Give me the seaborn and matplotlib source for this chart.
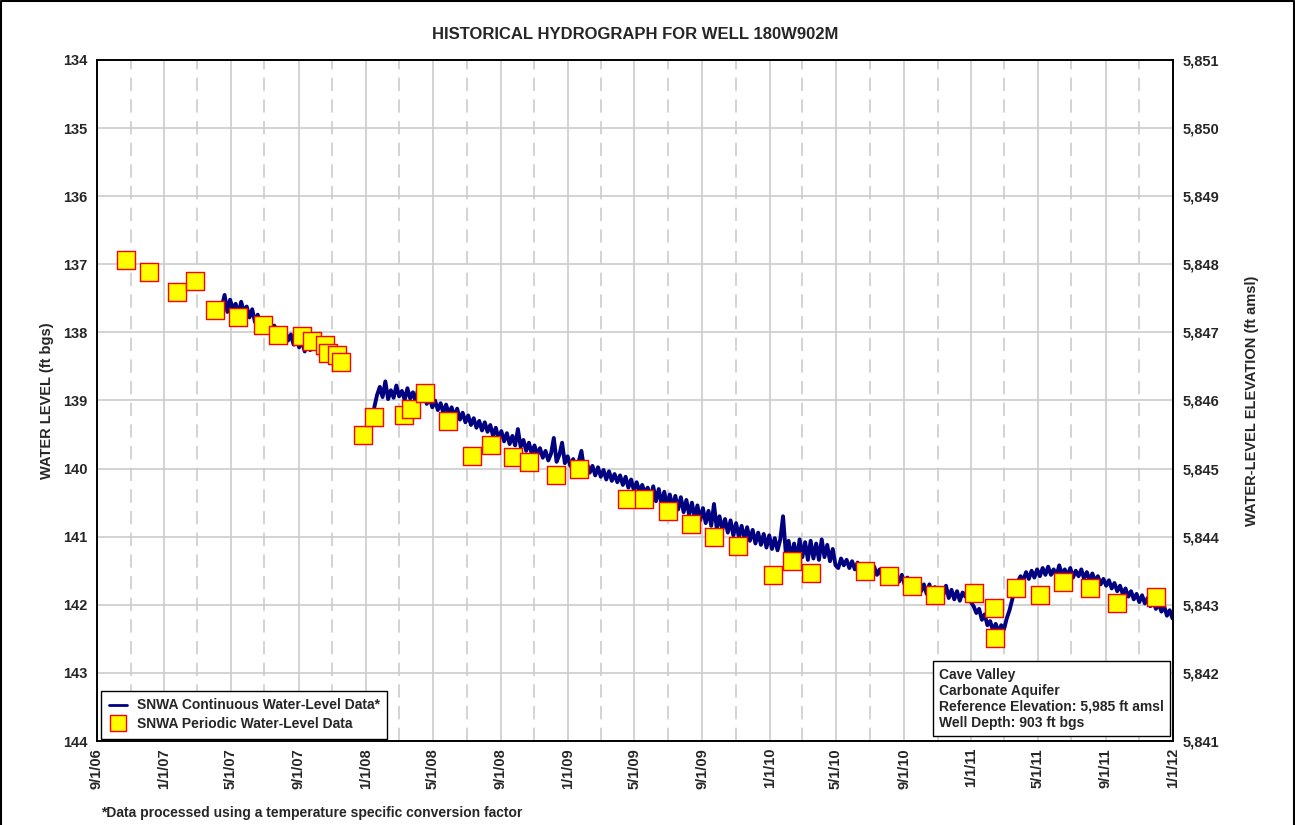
import pandas as pd
import numpy as np
import seaborn as sns
import matplotlib.pyplot as plt
import matplotlib.dates as mdates
from matplotlib.lines import Line2D
from matplotlib.ticker import FuncFormatter, MultipleLocator

# periodic (manual) measurements
periodic_dates = ["2006-10-23", "2006-12-05", "2007-01-23", "2007-02-25", "2007-04-03", "2007-05-15",
                  "2007-06-28", "2007-07-26", "2007-09-07", "2007-09-26", "2007-10-18", "2007-10-24",
                  "2007-11-09", "2007-11-16", "2007-12-27", "2008-01-15", "2008-03-10", "2008-03-22",
                  "2008-04-16", "2008-05-28", "2008-07-11", "2008-08-14", "2008-09-24", "2008-10-22",
                  "2008-12-10", "2009-01-21", "2009-04-17", "2009-05-19", "2009-07-01", "2009-08-12",
                  "2009-09-22", "2009-11-04", "2010-01-07", "2010-02-10", "2010-03-16", "2010-06-23",
                  "2010-08-04", "2010-09-16", "2010-10-28", "2011-01-06", "2011-02-11", "2011-02-13",
                  "2011-03-22", "2011-05-05", "2011-06-15", "2011-08-04", "2011-09-21", "2011-12-01"]
periodic_level = [136.94, 137.11, 137.41, 137.25, 137.67, 137.77,
                  137.89, 138.04, 138.05, 138.12, 138.19, 138.30,
                  138.33, 138.44, 139.51, 139.24, 139.21, 139.13,
                  138.89, 139.30, 139.82, 139.65, 139.83, 139.91,
                  140.10, 140.00, 140.44, 140.44, 140.62, 140.81,
                  141.00, 141.13, 141.56, 141.35, 141.53, 141.50,
                  141.57, 141.72, 141.85, 141.82, 142.04, 142.49,
                  141.75, 141.85, 141.67, 141.76, 141.98, 141.88]

# continuous transducer record, first segment (5-day readings from 2007-04-15)
cont1_start = "2007-04-15"
cont1_level = [137.62, 137.45, 137.70, 137.52, 137.66, 137.58, 137.73, 137.55, 137.70, 137.62,
               137.78, 137.66, 137.85, 137.74, 137.90, 137.82, 137.95, 137.86, 137.98, 137.90,
               138.05, 137.94, 138.08, 137.98, 138.12, 138.03, 138.18, 138.08, 138.22, 138.12,
               138.28, 138.18, 138.26]

# second segment (5-day readings from 2008-01-16)
cont2_start = "2008-01-16"
cont2_level = [139.10, 138.92, 138.80, 138.95, 138.72, 138.98, 138.85, 138.96, 138.78, 138.94,
               138.86, 138.99, 138.82, 138.97, 138.88, 139.02, 138.80, 139.00, 138.90, 139.05,
               138.95, 139.10, 139.00, 139.14, 139.04, 139.18, 139.06, 139.20, 139.10, 139.24,
               139.12, 139.28, 139.18, 139.32, 139.22, 139.36, 139.26, 139.40, 139.30, 139.44,
               139.32, 139.46, 139.36, 139.52, 139.40, 139.56, 139.45, 139.60, 139.48, 139.64,
               139.52, 139.66, 139.42, 139.68, 139.58, 139.74, 139.62, 139.78, 139.66, 139.80,
               139.70, 139.84, 139.74, 139.88, 139.78, 139.55, 139.90, 139.80, 139.62, 139.92,
               139.82, 139.96, 139.86, 140.00, 139.90, 139.74, 140.02, 139.92, 140.06, 139.96,
               140.10, 139.98, 140.12, 140.02, 140.16, 140.04, 140.18, 140.08, 140.20, 140.10,
               140.24, 140.12, 140.28, 140.16, 140.32, 140.20, 140.34, 140.24, 140.36, 140.28,
               140.44, 140.26, 140.48, 140.30, 140.52, 140.34, 140.56, 140.38, 140.58, 140.40,
               140.60, 140.42, 140.64, 140.46, 140.68, 140.50, 140.72, 140.54, 140.76, 140.58,
               140.80, 140.62, 140.84, 140.52, 140.88, 140.70, 140.90, 140.74, 140.94, 140.76,
               140.98, 140.80, 141.00, 140.84, 141.04, 140.86, 141.06, 140.90, 141.10, 140.94,
               141.12, 140.96, 141.16, 140.98, 141.18, 141.02, 141.20, 141.04, 140.70, 141.24,
               141.06, 141.32, 141.10, 141.34, 141.04, 141.30, 141.08, 141.34, 141.06, 141.32,
               141.10, 141.34, 141.04, 141.30, 141.12, 141.36, 141.18, 141.42, 141.46, 141.32,
               141.42, 141.34, 141.46, 141.36, 141.48, 141.38, 141.50, 141.40, 141.50, 141.42,
               141.54, 141.44, 141.56, 141.48, 141.60, 141.50, 141.62, 141.52, 141.64, 141.55,
               141.66, 141.56, 141.70, 141.60, 141.74, 141.64, 141.76, 141.66, 141.80, 141.70,
               141.84, 141.70, 141.88, 141.74, 141.90, 141.76, 141.86, 141.72, 141.90, 141.78,
               141.92, 141.80, 141.94, 141.82, 141.88, 141.74, 141.96, 142.02, 142.12, 142.06,
               142.22, 142.14, 142.30, 142.24, 142.38, 142.28, 142.40, 142.30, 142.36, 142.20,
               142.08, 141.92, 141.74, 141.66, 141.58, 141.64, 141.52, 141.62, 141.50, 141.60,
               141.48, 141.58, 141.46, 141.56, 141.44, 141.56, 141.48, 141.58, 141.42, 141.56,
               141.48, 141.58, 141.46, 141.60, 141.50, 141.58, 141.48, 141.62, 141.52, 141.64,
               141.54, 141.66, 141.58, 141.70, 141.62, 141.72, 141.64, 141.76, 141.68, 141.80,
               141.72, 141.84, 141.76, 141.88, 141.80, 141.92, 141.84, 141.96, 141.86, 141.98,
               141.90, 142.02, 141.94, 142.06, 141.98, 142.10, 142.02, 142.16, 142.08, 142.20]

ref_elev = 5985

per_df = pd.DataFrame({"date": pd.to_datetime(periodic_dates), "level": periodic_level})
c1 = pd.DataFrame({"date": pd.date_range(cont1_start, periods=len(cont1_level), freq="5D"), "level": cont1_level})
c2 = pd.DataFrame({"date": pd.date_range(cont2_start, periods=len(cont2_level), freq="5D"), "level": cont2_level})

sns.set_style("white")
plt.rcParams['font.family'] = ['Liberation Sans', 'DejaVu Sans']
plt.rcParams['font.weight'] = 'bold'

fig = plt.figure(figsize=(12.95, 8.25), dpi=100)
ax = fig.add_axes([0.0749, 0.1018, 0.8309, 0.8255])

sns.lineplot(data=c1, x="date", y="level", color="#000080", lw=2.8, ax=ax, zorder=3)
sns.lineplot(data=c2, x="date", y="level", color="#000080", lw=2.8, ax=ax, zorder=3)
sns.scatterplot(data=per_df, x="date", y="level", marker="s", s=150, color="#FFFF00",
                edgecolor="#FF0000", linewidth=1.0, ax=ax, zorder=4)

ax.set_xlim(pd.Timestamp("2006-09-01"), pd.Timestamp("2012-01-01"))
ax.set_ylim(144, 134)
ax.yaxis.set_major_locator(MultipleLocator(1))
ax.xaxis.set_major_locator(mdates.MonthLocator(bymonth=[1, 5, 9]))
ax.xaxis.set_minor_locator(mdates.MonthLocator(bymonth=[3, 7, 11]))
ax.xaxis.set_major_formatter(FuncFormatter(
    lambda v, p: (lambda d: f"{d.month}/{d.day}/{d:%y}")(mdates.num2date(v))))
ax.grid(True, which="major", axis="both", color="#cccccc", lw=1.2, zorder=0)
ax.grid(True, which="minor", axis="x", color="#cccccc", lw=1.2, ls=(0, (8, 5)), zorder=0)
ax.set_axisbelow(True)

for lab in ax.get_xticklabels():
    lab.set_rotation(90)
    lab.set_fontweight("bold")
for lab in ax.get_yticklabels():
    lab.set_fontweight("bold")
ax.tick_params(axis="x", which="major", labelsize=10.5, length=0, pad=5)
ax.tick_params(axis="x", which="minor", length=0)
ax.tick_params(axis="y", labelsize=10.5, length=0, pad=7)
ax.set_xlabel("")
ax.set_ylabel("WATER LEVEL (ft bgs)", fontsize=10.5, fontweight="bold", labelpad=6)
for sp in ax.spines.values():
    sp.set_color("black")
    sp.set_linewidth(1.2)

ax2 = ax.twinx()
ax2.set_ylim(ref_elev - 144, ref_elev - 134)
ax2.yaxis.set_major_locator(MultipleLocator(1))
ax2.yaxis.set_major_formatter(FuncFormatter(lambda v, p: f"{v:,.0f}"))
ax2.tick_params(axis="y", labelsize=10.5, length=0, pad=7)
for lab in ax2.get_yticklabels():
    lab.set_fontweight("bold")
ax2.set_ylabel("WATER-LEVEL ELEVATION (ft amsl)", fontsize=10.5, fontweight="bold",
               rotation=90, labelpad=18)
for sp in ax2.spines.values():
    sp.set_linewidth(1.2)
    sp.set_color("black")

ax.set_title("HISTORICAL HYDROGRAPH FOR WELL 180W902M", fontsize=12, fontweight="bold", pad=15)

handles = [Line2D([], [], color="#000080", lw=2.0),
           Line2D([], [], marker="s", ls="none", markersize=11, markerfacecolor="#FFFF00",
                  markeredgecolor="#FF0000")]
leg = ax.legend(handles, ["SNWA Continuous Water-Level Data*", "SNWA Periodic Water-Level Data"],
                loc="lower left", bbox_to_anchor=(0.004, 0.003), borderaxespad=0, fontsize=10,
                frameon=True, fancybox=False, framealpha=1, edgecolor="black", handlelength=1.3,
                borderpad=0.55, labelspacing=0.35, handletextpad=0.7)
leg.get_frame().set_linewidth(1.0)
for t in leg.get_texts():
    t.set_fontweight("bold")

ax.text(0.7828, 0.016, "Cave Valley\nCarbonate Aquifer\nReference Elevation: 5,985 ft amsl\nWell Depth: 903 ft bgs",
        transform=ax.transAxes, ha="left", va="bottom", fontsize=10, fontweight="bold",
        linespacing=1.2, zorder=6,
        bbox=dict(boxstyle="square,pad=0.45", facecolor="white", edgecolor="black", lw=1.0))

fig.text(0.078, 0.010, "*Data processed using a temperature specific conversion factor",
         fontsize=10, fontweight="bold")
# outer frame (left, top, right)
fig.add_artist(Line2D([0.001, 0.001, 0.999, 0.999], [0.0, 0.999, 0.999, 0.0],
                      transform=fig.transFigure, color="black", lw=1.5))

fig.savefig("out.png", dpi=100)
